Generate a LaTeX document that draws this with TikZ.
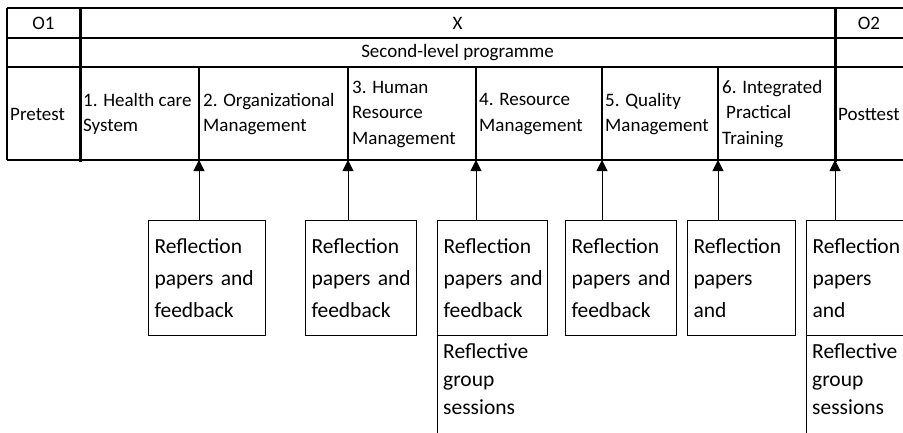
\documentclass[tikz,border=0pt]{standalone}
\usepackage{fontspec}
\setmainfont{Carlito}
\usetikzlibrary{arrows.meta}

\tikzset{
  cell/.style={anchor=west, inner sep=0pt, align=left, font=\fontsize{19}{25.5}\selectfont},
  head/.style={cell, anchor=center},
  refbox/.style={draw, line width=1pt, anchor=north west, align=left, inner xsep=6pt,
    minimum height=115pt, font=\fontsize{21.5}{32}\selectfont},
  lowbox/.style={anchor=north west, align=left, inner xsep=6pt, inner ysep=7pt,
    font=\fontsize{21.5}{28}\selectfont},
  up/.style={line width=1pt, -{Triangle[width=11pt,length=11pt]}}
}

\begin{document}
\begin{tikzpicture}[x=1pt, y=-1pt]
  \clip (0,0) rectangle (903,432);

  % table rules
  \foreach \y in {8,38,67,160}
    \draw[line width=2pt] (7,\y) -- (903,\y);
  \draw[line width=1.3pt] (7,8) -- (7,160);
  \foreach \x in {80,835}
    \draw[line width=3pt] (\x,8) -- (\x,162);
  \foreach \x [count=\i] in {199,348,476,602,718,835} {
    \draw[line width=2pt] (\x,67) -- (\x,160);
    \coordinate (d\i) at (\x,160); % arrow ends on the bottom rule
  }

  % first two rows
  \node[head] (o1) at (43.5,23) {O1};
  \node[head] (x) at (457.5,23) {X};
  \node[head] (o2) at (869,23) {O2};
  \node[head] (prog) at (457.5,52.5) {Second-level programme};

  % modules row
  \foreach \x/\t [count=\i] in {10/Pretest, 83/{1. Health care\\System},
      203/{2. Organizational\\Management}, 352/{3. Human\\Resource\\Management},
      479/{4. Resource\\Management}, 605/{5. Quality\\Management},
      722/{6. Integrated\\\hspace*{4pt}Practical\\Training}, 838/Posttest}
    \node[cell] (c\i) at (\x,114) {\t};

  % reflection boxes with arrows up to the table
  \foreach \x/\w/\t [count=\i] in {148/105/{Reflection\\papers~and\\feedback},
      305/99/{Reflection\\papers~and\\feedback}, 437/98/{Reflection\\papers~and\\feedback},
      565/99/{Reflection\\papers~and\\feedback}, 687/96/{Reflection\\papers\\and},
      806/102/{Reflection\\papers\\and}} {
    \node[refbox, text width=\w pt] (r\i) at (\x,220) {\t};
    \draw[up] (r\i.north -| d\i) -- (d\i);
  }

  % group sessions under boxes 3 and 6
  \foreach \i in {3,6} {
    \node[lowbox, text width=98pt] (g\i) at (r\i.south west) {Reflective\\group\\sessions};
    \draw[line width=1pt] (g\i.north west) -- ++(0,100);
  }
\end{tikzpicture}
\end{document}
